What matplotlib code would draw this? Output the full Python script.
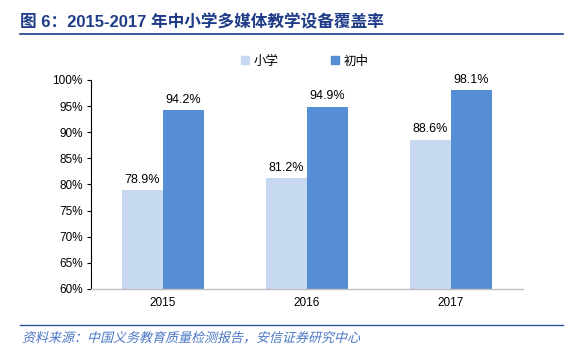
import matplotlib
matplotlib.use('Agg')
import matplotlib.pyplot as plt
from matplotlib.patches import Patch, PathPatch
from matplotlib.lines import Line2D
from matplotlib.textpath import TextPath
from matplotlib.font_manager import FontProperties
from matplotlib.transforms import Affine2D, IdentityTransform
import numpy as np

plt.rcParams['font.family'] = ['Liberation Sans', 'Noto Sans CJK SC', 'DejaVu Sans']

years = ['2015', '2016', '2017']
primary = [78.9, 81.2, 88.6]
junior = [94.2, 94.9, 98.1]
series_names = ['小学', '初中']
yticks = [60, 65, 70, 75, 80, 85, 90, 95, 100]

c_light = '#C6D9F1'
c_dark = '#558ED5'
c_title = '#1F3C88'

W, H = 585, 356
fig = plt.figure(figsize=(W/100, H/100), dpi=100)
ax = fig.add_axes([91/W, 1-289/H, 432/W, 209/H])

x = np.arange(len(years))
w = 0.285
ax.bar(x - w/2, primary, w, color=c_light)
ax.bar(x + w/2, junior, w, color=c_dark)
for xi, v in zip(x, primary):
    ax.text(xi - w/2, v + 0.8, f'{v:.1f}%', ha='center', va='bottom', fontsize=9)
for xi, v in zip(x, junior):
    ax.text(xi + w/2, v + 0.8, f'{v:.1f}%', ha='center', va='bottom', fontsize=9)

ax.set_xlim(-0.5, 2.5)
ax.set_ylim(60, 100)
ax.set_yticks(yticks)
ax.set_yticklabels([f'{t}%' for t in yticks], fontsize=8.5)
ax.set_xticks(x)
ax.set_xticklabels(years, fontsize=8.5)
ax.tick_params(axis='x', length=0, pad=6)
ax.tick_params(axis='y', length=3, width=0.8, pad=3)
for s in ['top', 'right']:
    ax.spines[s].set_visible(False)
ax.spines['left'].set_color('black')
ax.spines['left'].set_linewidth(0.8)
ax.spines['bottom'].set_color('#BFBFBF')
ax.spines['bottom'].set_linewidth(1.0)

handles = [Patch(color=c_light), Patch(color=c_dark)]
fig.legend(handles, series_names, loc='center', bbox_to_anchor=(0.521, 1-61/H),
           ncol=2, frameon=False, handlelength=0.6, handleheight=0.6,
           handletextpad=0.4, columnspacing=4.2,
           prop={'family': ['Noto Sans CJK SC', 'DejaVu Sans'], 'size': 9})

fig.text(20/W, 1-22/H, '图 6：2015-2017 年中小学多媒体教学设备覆盖率', fontsize=12,
         fontweight='bold', color=c_title, va='center', ha='left',
         family=['Liberation Sans', 'Noto Sans CJK SC'])
fig.add_artist(Line2D([20/W, 563/W], [1-34/H, 1-34/H], color=c_title, lw=1.2))
fig.add_artist(Line2D([20/W, 563/W], [1-325/H, 1-325/H], color='#2F5597', lw=1.0))

# italic (sheared) source note
src = '资料来源：中国义务教育质量检测报告，安信证券研究中心'
tp = TextPath((0, 0), src, size=13, prop=FontProperties(family='Noto Sans CJK SC'))
tr = Affine2D().skew_deg(14, 0).translate(22, H - 342) + IdentityTransform()
fig.add_artist(PathPatch(tp, transform=tr, color='#4A76C4', lw=0))

fig.savefig('out.png', dpi=100)
